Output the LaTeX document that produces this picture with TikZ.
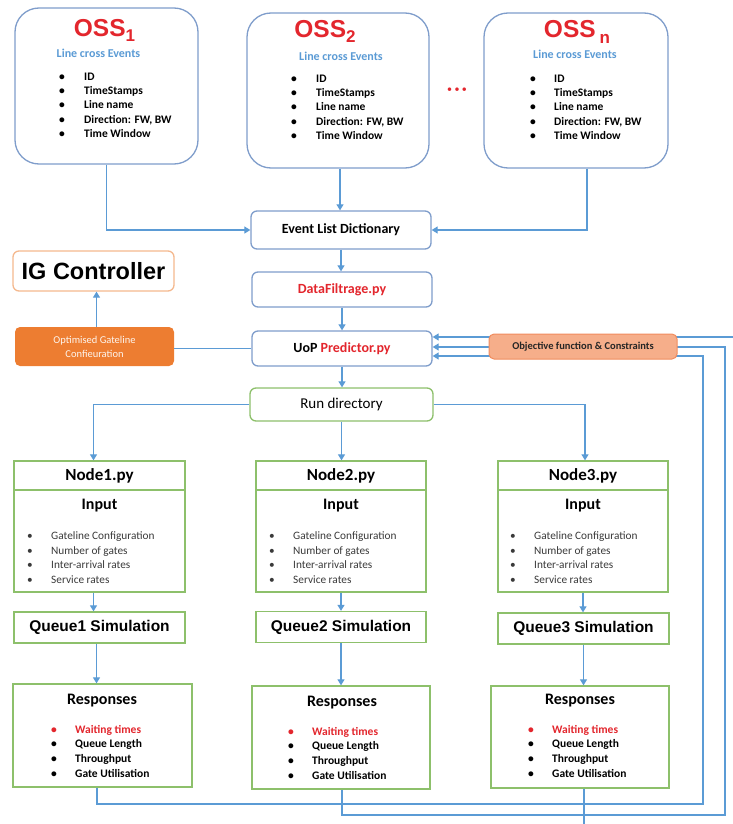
\documentclass[tikz,border=0pt]{standalone}
\usepackage{fontspec}
\setmainfont{Carlito}
\newfontfamily\arialf{Liberation Sans}
\usetikzlibrary{arrows.meta,calc}
\definecolor{lblue}{HTML}{5B9BD5}
\definecolor{bbord}{HTML}{7F9DCB}
\definecolor{gbord}{HTML}{8DC06B}
\definecolor{tred}{HTML}{E3262D}
\definecolor{orfill}{HTML}{ED7D31}
\definecolor{salfill}{HTML}{F6AE8A}
\definecolor{salbord}{HTML}{F08C5E}
\definecolor{igbord}{HTML}{F4B88E}
\definecolor{gtext}{HTML}{3A3A3A}
\newcommand\myitem[2][25pt]{\makebox[#1][l]{\textbullet}#2}
\newcommand\reditem[2][24pt]{\textcolor{tred}{\makebox[#1][l]{\textbullet}#2}}
\begin{document}
\begin{tikzpicture}[x=1pt,y=-1pt,
  conn/.style={draw=lblue, line width=1.2pt},
  arr/.style={conn, -{Triangle[width=7pt,length=6pt]}},
  ossbox/.style={draw=bbord, line width=1.3pt, rounded corners=24pt, fill=white},
  flowbox/.style={draw=bbord, line width=1.3pt, rounded corners=6pt, fill=white, font=\fontsize{14}{16}\selectfont\bfseries},
  runbox/.style={draw=gbord, line width=1.3pt, rounded corners=6pt, fill=white, font=\fontsize{15}{17}\selectfont},
  gbox/.style={draw=gbord, line width=1.3pt, fill=white},
  osstitle/.style={font=\arialf\bfseries\fontsize{24.5}{25}\selectfont, text=tred, anchor=base, inner sep=0pt},
  osssub/.style={font=\fontsize{12}{14}\selectfont\bfseries, text=lblue, inner sep=0pt},
  osslist/.style={font=\fontsize{11.5}{14.3}\selectfont\bfseries, align=left, anchor=north west, inner sep=0pt},
  inlist/.style={font=\fontsize{11.3}{14.7}\selectfont, text=gtext, align=left, anchor=north west, inner sep=0pt},
  reslist/.style={font=\fontsize{11.5}{14.7}\selectfont\bfseries, align=left, anchor=north west, inner sep=0pt},
  headtxt/.style={font=\fontsize{16}{18}\selectfont\bfseries, inner sep=0pt},
  nodetitle/.style={gbox, font=\fontsize{17}{19}\selectfont\bfseries},
  queuebox/.style={gbox, font=\arialf\bfseries\fontsize{15.5}{17}\selectfont}
]
\useasboundingbox (0,0) rectangle (733,824);

% ---------- OSS boxes ----------
\node[ossbox, minimum width=183pt, minimum height=156pt] (oss1) at (106.5,86) {};
\node[ossbox, minimum width=182pt, minimum height=155pt] (oss2) at (338,90.5) {};
\node[ossbox, minimum width=184pt, minimum height=155pt] (ossn) at (576,90.5) {};

\node[osstitle] (t1) at (104.5,37) {OSS\raisebox{-5pt}{\fontsize{17}{17}\selectfont 1}};
\node[osstitle] (t2) at (325,38) {OSS\raisebox{-5pt}{\fontsize{17}{17}\selectfont 2}};
\node[osstitle] (tn) at (577,38) {OSS\hspace{4pt}\raisebox{-6pt}{\fontsize{17}{17}\selectfont n}};

\node[osssub] (s1) at (98.5,53) {Line cross Events};
\node[osssub] (s2) at (341,56) {Line cross Events};
\node[osssub] (sn) at (575,54) {Line cross Events};

\node[osslist] (l1) at (59,72.5) {\myitem{ID}\\\myitem{TimeStamps}\\\myitem{Line name}\\\myitem{Direction: FW, BW}\\\myitem{Time Window}};
\node[osslist] (l2) at (291,74.5) {\myitem{ID}\\\myitem{TimeStamps}\\\myitem{Line name}\\\myitem{Direction: FW, BW}\\\myitem{Time Window}};
\node[osslist] (ln) at (530,74.5) {\myitem[24pt]{ID}\\\myitem[24pt]{TimeStamps}\\\myitem[24pt]{Line name}\\\myitem[24pt]{Direction: FW, BW}\\\myitem[24pt]{Time Window}};

\node[text=tred, font=\fontsize{10}{10}\selectfont, inner sep=0pt] (dots) at (457,90) {\textbullet\hspace{2.5pt}\textbullet\hspace{2.5pt}\textbullet};

% ---------- central flow ----------
\node[flowbox, minimum width=180pt, minimum height=38pt] (evl) at (341,230) {Event List Dictionary};
\node[flowbox, minimum width=180pt, minimum height=35pt, text=tred] (df) at (342,289.5) {DataFiltrage.py};
\node[flowbox, minimum width=180pt, minimum height=35pt] (uop) at (342,348.5) {UoP \textcolor{tred}{Predictor.py}};
\node[runbox, minimum width=183pt, minimum height=33pt] (run) at (341.5,404.5) {Run directory};

\node[draw=igbord, line width=1.3pt, rounded corners=6pt, minimum width=161pt, minimum height=40pt,
      font=\arialf\bfseries\fontsize{23.5}{25}\selectfont] (ig) at (93.5,271) {IG Controller};
\node[fill=orfill, rounded corners=5pt, minimum width=159pt, minimum height=39pt, text=white!92!orfill,
      align=center, font=\fontsize{10.5}{14}\selectfont] (opt) at (94.5,346.5) {Optimised Gateline\\Confieuration};

% ---------- Node columns ----------
\node[nodetitle, minimum width=171pt, minimum height=29pt] (n1t) at (99.5,475.5) {Node1.py};
\node[gbox, minimum width=171pt, minimum height=102pt] (n1b) at (99.5,541) {};
\node[nodetitle, minimum width=170pt, minimum height=29pt] (n2t) at (341,475.5) {Node2.py};
\node[gbox, minimum width=170pt, minimum height=102pt] (n2b) at (341,541) {};
\node[nodetitle, minimum width=170pt, minimum height=29pt] (n3t) at (583,475.5) {Node3.py};
\node[gbox, minimum width=170pt, minimum height=102pt] (n3b) at (583,541) {};

\node[headtxt] (i1) at (99.5,506) {Input};
\node[headtxt] (i2) at (341,506) {Input};
\node[headtxt] (i3) at (583,506) {Input};

\node[inlist] (il1) at (27,531.5) {\myitem[24pt]{Gateline Configuration}\\\myitem[24pt]{Number of gates}\\\myitem[24pt]{Inter-arrival rates}\\\myitem[24pt]{Service rates}};
\node[inlist] (il2) at (269,531.5) {\myitem[24pt]{Gateline Configuration}\\\myitem[24pt]{Number of gates}\\\myitem[24pt]{Inter-arrival rates}\\\myitem[24pt]{Service rates}};
\node[inlist] (il3) at (510,531.5) {\myitem[24pt]{Gateline Configuration}\\\myitem[24pt]{Number of gates}\\\myitem[24pt]{Inter-arrival rates}\\\myitem[24pt]{Service rates}};

\node[queuebox, minimum width=171pt, minimum height=31pt] (q1) at (99.5,627.5) {Queue1 Simulation};
\node[queuebox, minimum width=170pt, minimum height=31pt] (q2) at (341,627) {Queue2 Simulation};
\node[queuebox, minimum width=171pt, minimum height=31pt] (q3) at (583.5,628.5) {Queue3 Simulation};

\node[gbox, minimum width=179pt, minimum height=103pt] (r1) at (102.5,735.5) {};
\node[gbox, minimum width=178pt, minimum height=103pt] (r2) at (341,737.5) {};
\node[gbox, minimum width=178pt, minimum height=102pt] (r3) at (580,737) {};

\node[headtxt] (h1) at (102,701) {Responses};
\node[headtxt] (h2) at (342,703) {Responses};
\node[headtxt] (h3) at (580,701) {Responses};

\node[reslist] (rl1) at (51,725) {\reditem{Waiting times}\\\myitem[24pt]{Queue Length}\\\myitem[24pt]{Throughput}\\\myitem[24pt]{Gate Utilisation}};
\node[reslist] (rl2) at (288,727) {\reditem{Waiting times}\\\myitem[24pt]{Queue Length}\\\myitem[24pt]{Throughput}\\\myitem[24pt]{Gate Utilisation}};
\node[reslist] (rl3) at (528,725) {\reditem{Waiting times}\\\myitem[24pt]{Queue Length}\\\myitem[24pt]{Throughput}\\\myitem[24pt]{Gate Utilisation}};

% ---------- connectors ----------
\draw[arr] (oss1.south) |- (evl.west);
\draw[arr] ([xshift=2pt]oss2.south) -- ([xshift=2pt]oss2.south |- evl.north);
\draw[arr] ([xshift=11pt]ossn.south) |- (evl.east);
\draw[arr] (evl.south) -- (evl.south |- df.north);
\draw[arr] (df.south) -- (df.south |- uop.north);
\draw[arr] (uop.south) -- (uop.south |- run.north);
\draw[conn] (uop.west) -- (uop.west -| opt.east);
\draw[arr] ([xshift=2pt]opt.north) -- ([xshift=2pt]opt.north |- ig.south);

\draw[arr] (run.west) -| ([xshift=-6pt]n1t.north);
\draw[arr] (run.south) -- (run.south |- n2t.north);
\draw[arr] (run.east) -| ([xshift=2pt]n3t.north);

\draw[arr] ([xshift=-6pt]n1b.south) -- ([xshift=-6pt]q1.north);
\draw[arr] (n2b.south) -- (n2b.south |- q2.north);
\draw[arr] (n3b.south) -- (n3b.south |- q3.north);
\draw[arr] ([xshift=-3pt]q1.south) -- ([xshift=-3pt]q1.south |- r1.north);
\draw[arr] (q2.south) -- (q2.south |- r2.north);
\draw[arr] (q3.south) -- (q3.south |- r3.north);

\coordinate (fbA) at (703,804);
\coordinate (fbB) at (725,815);
\coordinate (fbC) at (584,824);
\coordinate (fbD) at (733,337);
\draw[arr] ([xshift=-5.5pt]r1.south) |- (fbA) |- ([yshift=-7.5pt]uop.east);
\draw[arr] ([xshift=1pt]r2.south) |- (fbB) |- ([yshift=1.5pt]uop.east);
\draw[conn] (r3.south -| fbC) -- (fbC);
\draw[arr] (fbD) -- (fbD -| uop.east);

\node[draw=salbord, fill=salfill, line width=1pt, rounded corners=5pt, minimum width=188pt, minimum height=25pt,
      font=\fontsize{10.5}{12}\selectfont\bfseries, text=black!85] (obj) at (583,346.5) {Objective function \& Constraints};
\end{tikzpicture}
\end{document}
